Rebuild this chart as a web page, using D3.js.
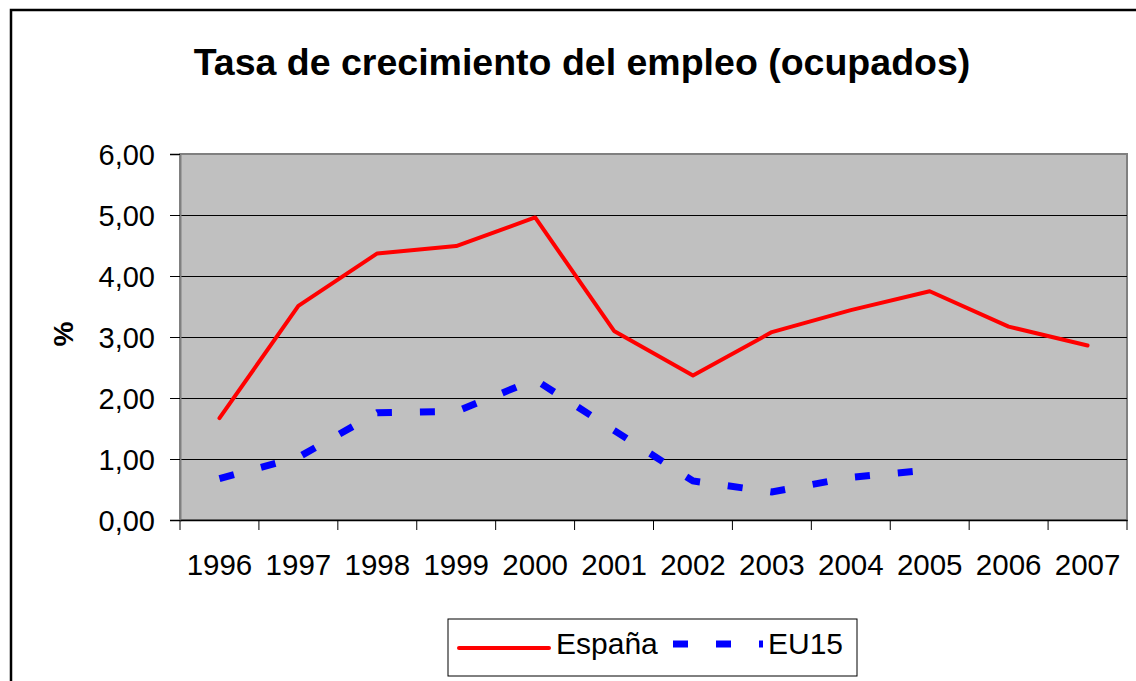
<!DOCTYPE html>
<html><head><meta charset="utf-8">
<script src="https://cdn.jsdelivr.net/npm/d3@7"></script>
<style>
body{margin:0;background:#fff}
svg{display:block}
text{font-family:"Liberation Sans",Arial,sans-serif;fill:#000}
</style>
</head><body>
<svg id="c" width="1136" height="681"></svg>
<script>
// ---- data ----
const years = ["1996","1997","1998","1999","2000","2001","2002","2003","2004","2005","2006","2007"];
const espana = [1.67,3.51,4.37,4.49,4.96,3.10,2.37,3.08,3.44,3.75,3.17,2.86];
const eu15 = [0.68,1.03,1.76,1.78,2.30,1.47,0.64,0.46,0.70,0.82,null,null];
const yTicks = [0,1,2,3,4,5,6];
const seriesNames = ["España","EU15"];
const titleText = "Tasa de crecimiento del empleo (ocupados)";
const yTitle = "%";

// ---- layout ----
const svg = d3.select("#c");
const L=180, R=1127, T=154, B=520;
const x = d3.scaleBand().domain(years).range([L,R]);
const y = d3.scaleLinear().domain([0,6]).range([B,T]);

// outer border
svg.append("rect").attr("x",11).attr("y",10).attr("width",1200).attr("height",1000)
  .attr("fill","none").attr("stroke","#000").attr("stroke-width",2.5);

// title
svg.append("text").attr("x",582).attr("y",75).attr("text-anchor","middle")
  .attr("font-size",37.5).attr("font-weight","bold").text(titleText);

// plot area
svg.append("rect").attr("x",L).attr("y",T).attr("width",R-L).attr("height",B-T)
  .attr("fill","#C0C0C0").attr("stroke","#808080").attr("stroke-width",2);

// gridlines
svg.append("g").selectAll("line").data(yTicks.filter(d=>d>0&&d<6)).join("line")
  .attr("x1",L).attr("x2",R).attr("y1",d=>Math.round(y(d))+0.5).attr("y2",d=>Math.round(y(d))+0.5)
  .attr("stroke","#000").attr("stroke-width",1);

// y axis
const yAxis = svg.append("g").attr("transform",`translate(${L},0)`)
  .call(d3.axisLeft(y).tickValues(yTicks).tickSize(10).tickPadding(15)
    .tickFormat(d=>d.toFixed(2).replace(".",",")));
yAxis.select(".domain").attr("stroke","#808080").attr("stroke-width",2);
yAxis.selectAll(".tick line").attr("stroke","#000");
yAxis.selectAll(".tick text").attr("font-size",29).attr("font-family","Liberation Sans, Arial, sans-serif")
  .attr("dy","0.36em").attr("fill","#000");

// x axis
const xAxis = svg.append("g").attr("transform",`translate(0,${B})`)
  .call(d3.axisBottom(x).tickSize(0).tickPadding(55));
xAxis.select(".domain").attr("stroke","#000").attr("stroke-width",1.5);
xAxis.selectAll(".tick text").attr("font-size",29.5).attr("font-family","Liberation Sans, Arial, sans-serif")
  .attr("fill","#000").attr("dy","0");
const bounds = years.map(d=>x(d)).concat([x.range()[1]]);
xAxis.append("g").selectAll("line").data(bounds).join("line")
  .attr("x1",d=>d).attr("x2",d=>d).attr("y1",0).attr("y2",10).attr("stroke","#000");

// y title
svg.append("text").attr("transform","translate(73,334) rotate(-90)").attr("text-anchor","middle")
  .attr("font-size",28).attr("font-weight","bold").text(yTitle);

// lines
const line = d3.line().defined(d=>d.v!=null).x(d=>x(d.k)+x.bandwidth()/2).y(d=>y(d.v));
svg.append("path").datum(years.map((k,i)=>({k,v:eu15[i]})))
  .attr("d",line).attr("fill","none").attr("stroke","#0000FF").attr("stroke-width",7)
  .attr("stroke-dasharray","15,28");
svg.append("path").datum(years.map((k,i)=>({k,v:espana[i]})))
  .attr("d",line).attr("fill","none").attr("stroke","#FF0000").attr("stroke-width",4)
  .attr("stroke-linejoin","round").attr("stroke-linecap","round");

// legend
const lg = svg.append("g");
lg.append("rect").attr("x",448).attr("y",619).attr("width",409).attr("height",57)
  .attr("fill","#fff").attr("stroke","#000").attr("stroke-width",1);
lg.append("line").attr("x1",459).attr("x2",549).attr("y1",648).attr("y2",648)
  .attr("stroke","#FF0000").attr("stroke-width",4).attr("stroke-linecap","round");
lg.append("text").attr("x",556).attr("y",654).attr("font-size",30).text(seriesNames[0]);
lg.append("line").attr("x1",673).attr("x2",763).attr("y1",644).attr("y2",644)
  .attr("stroke","#0000FF").attr("stroke-width",7).attr("stroke-dasharray","15,28");
lg.append("text").attr("x",768).attr("y",654).attr("font-size",30).text(seriesNames[1]);
</script>
</body></html>
